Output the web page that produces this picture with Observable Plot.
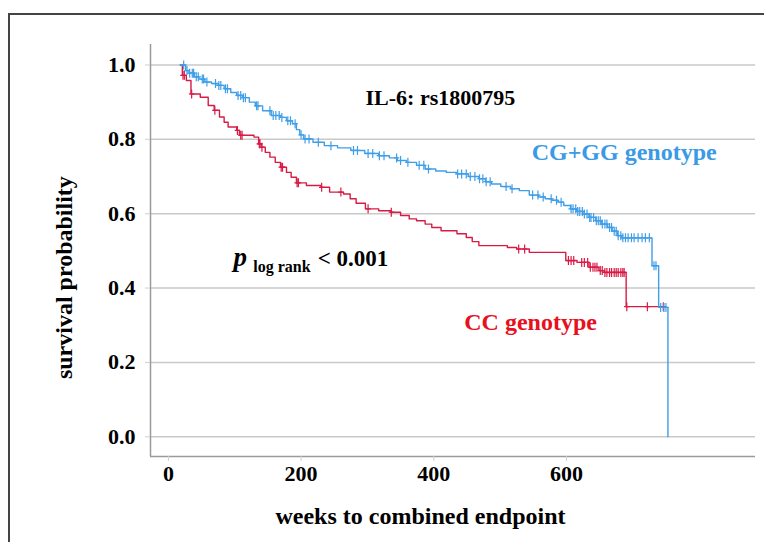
<!DOCTYPE html>
<html>
<head>
<meta charset="utf-8">
<script src="https://cdn.jsdelivr.net/npm/d3@7"></script>
<script src="https://cdn.jsdelivr.net/npm/@observablehq/plot@0.6"></script>
<style>
  html, body { margin: 0; padding: 0; background: #fff; }
  #wrap { position: relative; width: 764px; height: 542px; overflow: hidden; }
  #border { position: absolute; left: 8px; top: 13px; width: 900px; height: 700px; border: 2px solid #444; box-sizing: border-box; }
  #chart { position: absolute; left: 0; top: 0; }
  #chart svg text { font-weight: bold; }
</style>
</head>
<body>
<div id="wrap"><div id="border"></div><div id="chart"></div></div>
<script>
// ---- data ----
// CG+GG genotype: step times (weeks) and survival after each step
const blueTime = [18, 26, 31, 39, 46, 55, 65, 75, 84, 94, 103, 112, 122, 131, 142, 155, 169, 178, 187, 193, 198, 204, 218, 235, 255, 275, 296, 317, 333, 345, 359, 374, 387, 403, 419, 435, 452, 468, 478, 487, 501, 516, 529, 544, 558, 568, 578, 587, 596, 606, 615, 625, 634, 644, 653, 662, 669, 677, 683, 729, 739, 753];
const blueSurv = [1.000, 0.985, 0.978, 0.968, 0.962, 0.954, 0.950, 0.945, 0.936, 0.926, 0.918, 0.912, 0.900, 0.890, 0.877, 0.864, 0.859, 0.850, 0.842, 0.826, 0.812, 0.801, 0.792, 0.783, 0.777, 0.770, 0.762, 0.756, 0.750, 0.743, 0.738, 0.730, 0.720, 0.715, 0.711, 0.707, 0.700, 0.694, 0.686, 0.680, 0.673, 0.667, 0.662, 0.650, 0.645, 0.640, 0.636, 0.631, 0.622, 0.613, 0.606, 0.599, 0.590, 0.581, 0.572, 0.563, 0.553, 0.541, 0.535, 0.460, 0.348, 0.000];
const blueCensor = [23, 28, 32, 36, 38, 42, 45, 51, 53, 58, 71, 76, 79, 86, 89, 105, 109, 113, 116, 133, 135, 153, 158, 162, 167, 171, 180, 184, 191, 200, 206, 212, 226, 245, 279, 285, 301, 308, 318, 325, 344, 350, 361, 378, 385, 392, 436, 442, 449, 455, 462, 469, 474, 479, 485, 509, 518, 549, 557, 565, 577, 585, 592, 607, 610, 614, 617, 620, 624, 627, 631, 635, 637, 641, 645, 648, 651, 654, 658, 661, 665, 668, 672, 675, 678, 682, 685, 689, 693, 698, 702, 708, 714, 719, 725, 732, 735, 742, 747, 750];

// CC genotype
const redTime = [18, 21, 27, 34, 48, 60, 69, 77, 84, 90, 103, 107, 129, 136, 140, 146, 153, 161, 169, 178, 185, 193, 208, 230, 243, 264, 274, 283, 297, 317, 335, 350, 363, 374, 387, 397, 411, 435, 449, 458, 468, 511, 525, 544, 599, 616, 634, 649, 657, 690, 748];
const redSurv = [1.000, 0.972, 0.958, 0.922, 0.913, 0.891, 0.878, 0.860, 0.846, 0.833, 0.824, 0.811, 0.806, 0.788, 0.779, 0.765, 0.752, 0.738, 0.725, 0.711, 0.698, 0.683, 0.676, 0.671, 0.658, 0.653, 0.640, 0.628, 0.613, 0.608, 0.604, 0.595, 0.586, 0.581, 0.572, 0.563, 0.554, 0.546, 0.536, 0.525, 0.514, 0.509, 0.505, 0.496, 0.474, 0.469, 0.456, 0.447, 0.442, 0.350, 0.350];
const redCensor = [22, 24, 35, 70, 104, 109, 111, 137, 138, 141, 170, 172, 194, 196, 231, 260, 301, 336, 528, 537, 603, 607, 611, 623, 627, 632, 636, 640, 643, 646, 651, 654, 658, 661, 665, 668, 672, 675, 678, 682, 685, 687, 691, 722, 746];

const xTicks = [0, 200, 400, 600];
const yTicks = [0.0, 0.2, 0.4, 0.6, 0.8, 1.0];

const titleText = "IL-6: rs1800795";
const blueLabel = "CG+GG genotype";
const redLabel = "CC genotype";
const xTitle = "weeks to combined endpoint";
const yTitle = "survival probability";
const pMain = "p", pSub = "log rank", pRest = "< 0.001";

// ---- build ----
const blueColor = "#3f9ee8", redColor = "#d81b45";
const xDomain = [-27, 885], yDomain = [-0.053, 1.055];

function curve(times, survs) { return times.map((t, i) => ({t, s: survs[i]})); }
function stepAt(times, survs, t) {
  const i = d3.bisectRight(times, t) - 1;
  return survs[Math.max(0, i)];
}
const censorSymbol = {
  draw(ctx, size) {
    const r = Math.sqrt(size / Math.PI);
    ctx.moveTo(0, -r); ctx.lineTo(0, r);
    ctx.moveTo(-r * 0.6, 0); ctx.lineTo(r * 0.6, 0);
  }
};
const blueData = curve(blueTime, blueSurv);
const redData = curve(redTime, redSurv);
const blueCens = blueCensor.map(t => ({t, s: stepAt(blueTime, blueSurv, t)}));
const redCens = redCensor.map(t => ({t, s: stepAt(redTime, redSurv, t)}));

const serif = "Liberation Serif, Times New Roman, DejaVu Serif, serif";

const chart = Plot.plot({
  width: 764,
  height: 542,
  marginLeft: 150,
  marginRight: 9,
  marginTop: 44,
  marginBottom: 86,
  style: { fontFamily: serif, background: "transparent", color: "#000" },
  x: { domain: xDomain },
  y: { domain: yDomain },
  marks: [
    Plot.ruleY(yTicks, { stroke: "#c9c9c9", strokeWidth: 1.5 }),
    Plot.ruleX([xDomain[0]], { stroke: "#9a9a9a", strokeWidth: 1.5 }),
    Plot.ruleY([yDomain[0]], { stroke: "#9a9a9a", strokeWidth: 1.5 }),
    Plot.axisY({ ticks: yTicks, tickFormat: d => d.toFixed(1), tickSize: 5, tickPadding: 10, fontSize: 22, stroke: "#d0d0d0", fill: "#000", label: null }),
    Plot.axisX({ ticks: xTicks, tickFormat: d => String(d), tickSize: 5, tickPadding: 4, fontSize: 22, stroke: "#d0d0d0", fill: "#000", label: null }),
    Plot.line(redData, { x: "t", y: "s", curve: "step-after", stroke: redColor, strokeWidth: 1.4 }),
    Plot.line(blueData, { x: "t", y: "s", curve: "step-after", stroke: blueColor, strokeWidth: 1.4 }),
    Plot.dot(redCens, { x: "t", y: "s", symbol: censorSymbol, r: 4.5, stroke: redColor, strokeWidth: 1.2, fill: "none" }),
    Plot.dot(blueCens, { x: "t", y: "s", symbol: censorSymbol, r: 4.5, stroke: blueColor, strokeWidth: 1.2, fill: "none" }),
    Plot.text([titleText], { x: 410, y: 0.912, text: d => d, fontSize: 22, fill: "#000", textAnchor: "middle" }),
    Plot.text([blueLabel], { x: 687, y: 0.764, text: d => d, fontSize: 24, fill: "#3a9ae6", textAnchor: "middle" }),
    Plot.text([redLabel], { x: 446, y: 0.307, text: d => d, fontSize: 24, fill: "#e8101c", textAnchor: "start" }),
    Plot.text([pMain], { x: 98, y: 0.482, text: d => d, fontSize: 27, fontStyle: "italic", fill: "#000", textAnchor: "start" }),
    Plot.text([pSub], { x: 128, y: 0.456, text: d => d, fontSize: 16, fill: "#000", textAnchor: "start" }),
    Plot.text([pRest], { x: 225, y: 0.48, text: d => d, fontSize: 23, fill: "#000", textAnchor: "start" }),
    Plot.text([xTitle], { x: 380, y: -0.215, text: d => d, fontSize: 24, fill: "#000", textAnchor: "middle" }),
    Plot.text([yTitle], { x: -157, y: 0.428, text: d => d, fontSize: 24, fill: "#000", textAnchor: "middle", rotate: -90 })
  ]
});
document.getElementById("chart").appendChild(chart);
</script>
</body>
</html>
